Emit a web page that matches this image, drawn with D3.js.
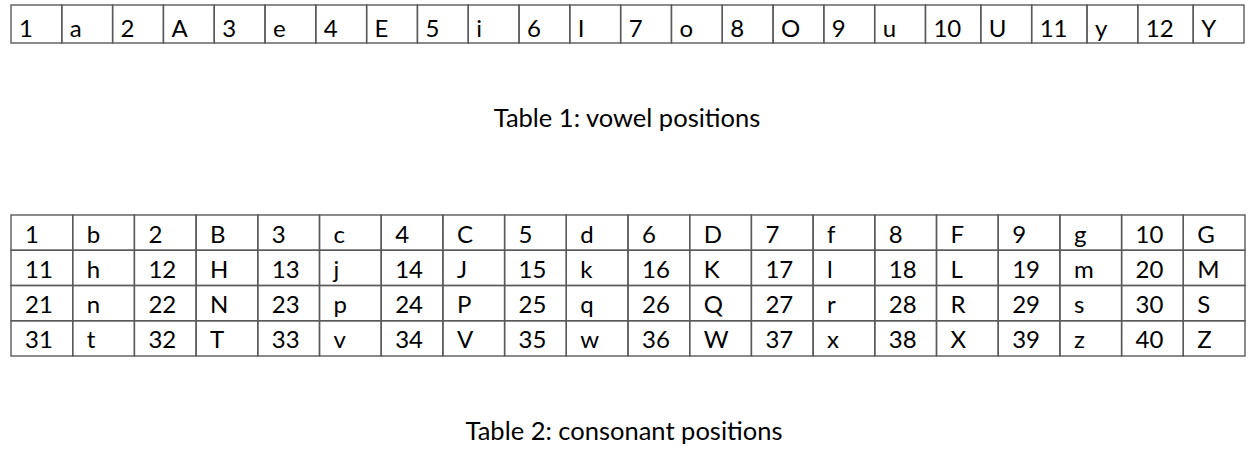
<!DOCTYPE html>
<meta charset="utf-8">

<!-- Load d3.js -->
<script src="https://d3js.org/d3.v7.min.js"></script>

<div id="my_dataviz"></div>

<style>
  body { margin: 0; background: #fff; }
  text { font-family: Lato, "Open Sans", sans-serif; fill: #000; }
</style>

<script>

// Table 1: vowels and their positions
var vowelNums = ["1","2","3","4","5","6","7","8","9","10","11","12"];
var vowels    = ["a","A","e","E","i","I","o","O","u","U","y","Y"];

// Table 2: consonants and their positions, 10 pairs per row
var consonantNums = [
  "1","2","3","4","5","6","7","8","9","10",
  "11","12","13","14","15","16","17","18","19","20",
  "21","22","23","24","25","26","27","28","29","30",
  "31","32","33","34","35","36","37","38","39","40"
];
var consonants = [
  "b","B","c","C","d","D","f","F","g","G",
  "h","H","j","J","k","K","l","L","m","M",
  "n","N","p","P","q","Q","r","R","s","S",
  "t","T","v","V","w","W","x","X","z","Z"
];

var captions = ["Table 1: vowel positions", "Table 2: consonant positions"];

var width = 1254, height = 458;

var svg = d3.select("#my_dataviz")
  .append("svg")
    .attr("width", width)
    .attr("height", height);

var lineColor = "#5a5a5a";

// ---------- Table 1 ----------
// cells alternate number / letter
var cells1 = [];
vowelNums.forEach(function(n, i) {
  cells1.push({label: n});
  cells1.push({label: vowels[i]});
});
// two digit numbers get a slightly wider column
cells1.forEach(function(d) { d.w = d.label.length > 1 ? 1.09 : 1; });
var acc = 0;
cells1.forEach(function(d) { d.x0 = acc; acc += d.w; d.x1 = acc; });

var x1 = d3.scaleLinear().domain([0, acc]).range([11, 1244]);
var y1 = d3.scaleLinear().domain([0, 1]).range([5, 43]);

var t1 = svg.append("g");
t1.selectAll("rect")
  .data(cells1)
  .enter().append("rect")
    .attr("x", function(d) { return x1(d.x0); })
    .attr("y", y1(0))
    .attr("width", function(d) { return x1(d.x1) - x1(d.x0); })
    .attr("height", y1(1) - y1(0))
    .attr("fill", "none")
    .attr("stroke", lineColor)
    .attr("stroke-width", 1.4);
t1.selectAll("text")
  .data(cells1)
  .enter().append("text")
    .attr("x", function(d) { return x1(d.x0) + 8; })
    .attr("y", y1(0) + 31.5)
    .attr("font-size", "24px")
    .text(function(d) { return d.label; });

svg.append("text")
  .attr("x", 627)
  .attr("y", 127)
  .attr("text-anchor", "middle")
  .attr("font-size", "25.5px")
  .text(captions[0]);

// ---------- Table 2 ----------
var cells2 = [];
consonantNums.forEach(function(n, i) {
  var row = Math.floor(i / 10), pair = i % 10;
  cells2.push({label: n, row: row, col: pair * 2});
  cells2.push({label: consonants[i], row: row, col: pair * 2 + 1});
});

var x2 = d3.scaleBand().domain(d3.range(20)).range([11, 1245]);
var y2 = d3.scaleBand().domain(d3.range(4)).range([215, 356]);

var t2 = svg.append("g");
t2.selectAll("rect")
  .data(cells2)
  .enter().append("rect")
    .attr("x", function(d) { return x2(d.col); })
    .attr("y", function(d) { return y2(d.row); })
    .attr("width", x2.bandwidth())
    .attr("height", y2.bandwidth())
    .attr("fill", "none")
    .attr("stroke", lineColor)
    .attr("stroke-width", 1.4);
t2.selectAll("text")
  .data(cells2)
  .enter().append("text")
    .attr("x", function(d) { return x2(d.col) + 14; })
    .attr("y", function(d) { return y2(d.row) + 27.5; })
    .attr("font-size", "24px")
    .text(function(d) { return d.label; });

svg.append("text")
  .attr("x", 624)
  .attr("y", 440)
  .attr("text-anchor", "middle")
  .attr("font-size", "25.5px")
  .text(captions[1]);

</script>
